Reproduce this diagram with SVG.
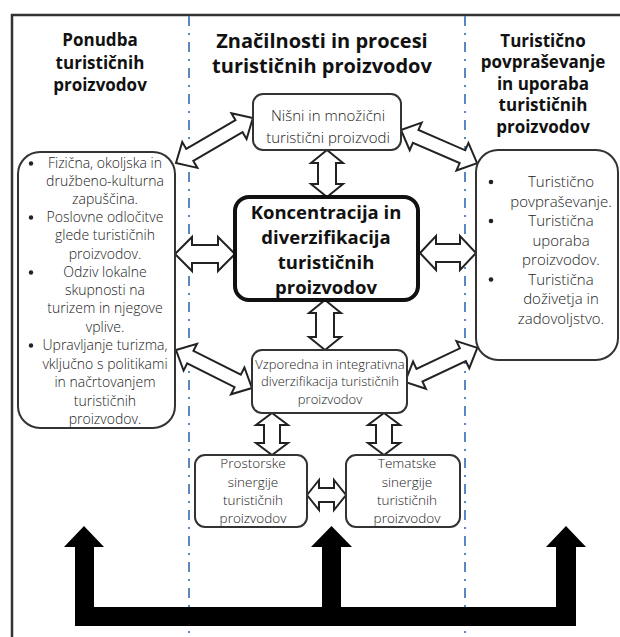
<svg xmlns="http://www.w3.org/2000/svg" width="620" height="637" viewBox="0 0 620 637">
<style>
.frame{fill:none;stroke:#333;stroke-width:2.5}
.sep{fill:none;stroke:#5b87c0;stroke-width:2;stroke-dasharray:10 7 2 7}
.box{fill:#fff;stroke:#333;stroke-width:2}
.main{fill:#fff;stroke:#111;stroke-width:4}
.arr{fill:#fff;stroke:#222;stroke-width:2;stroke-linejoin:miter}
.h{font-family:"Open Sans","Liberation Sans",sans-serif;font-weight:700;fill:#111;text-anchor:middle}
.t{font-family:"Open Sans","Liberation Sans",sans-serif;font-weight:300;fill:#222;text-anchor:middle;font-size:13px}
.dot{fill:#222}
</style>
<rect width="620" height="637" fill="#fff"/>
<path class="frame" d="M12,637 L12,15 L620,15"/>
<line class="sep" x1="189" y1="16" x2="189" y2="637"/>
<line class="sep" x1="465" y1="16" x2="465" y2="637"/>

<g id="headers">
<text class="h" font-size="17"><tspan x="100" y="46">Ponudba</tspan><tspan x="100" y="69">turističnih</tspan><tspan x="100" y="91">proizvodov</tspan></text>
<text class="h" font-size="20" x="322" y="48">Značilnosti in procesi</text>
<text class="h" font-size="20" x="322" y="73">turističnih proizvodov</text>
<text class="h" font-size="17"><tspan x="543" y="47">Turistično</tspan><tspan x="543" y="68">povpraševanje</tspan><tspan x="543" y="90">in uporaba</tspan><tspan x="543" y="111">turističnih</tspan><tspan x="543" y="133">proizvodov</tspan></text>
</g>

<g id="connectors">
<polygon class="arr" transform="translate(176,163) rotate(-30.3)" points="0,0 16,-15 16,-7 73,-7 73,-15 89,0 73,15 73,7 16,7 16,15"/>
<polygon class="arr" transform="translate(401,130) rotate(23.5)" points="0,0 16,-15 16,-7 67,-7 67,-15 83,0 67,15 67,7 16,7 16,15"/>
<polygon class="arr" transform="translate(176,350) rotate(26.6)" points="0,0 16,-15 16,-7 69,-7 69,-15 85,0 69,15 69,7 16,7 16,15"/>
<polygon class="arr" transform="translate(405,382) rotate(-25.3)" points="0,0 16,-15 16,-7 64,-7 64,-15 80,0 64,15 64,7 16,7 16,15"/>
<polygon class="arr" transform="translate(175,254)" points="0,0 17,-17 17,-9 43,-9 43,-17 60,0 43,17 43,9 17,9 17,17"/>
<polygon class="arr" transform="translate(420,253)" points="0,0 16,-17 16,-9 40,-9 40,-17 56,0 40,17 40,9 16,9 16,17"/>
<polygon class="arr" transform="translate(327,150) rotate(90)" points="0,0 13,-16 13,-9 34,-9 34,-16 47,0 34,16 34,9 13,9 13,16"/>
<polygon class="arr" transform="translate(325,300) rotate(90)" points="0,0 13,-16 13,-9 37,-9 37,-16 50,0 37,16 37,9 13,9 13,16"/>
<polygon class="arr" transform="translate(272,413) rotate(90)" points="0,0 12,-16 12,-8 30,-8 30,-16 42,0 30,16 30,8 12,8 12,16"/>
<polygon class="arr" transform="translate(384,413) rotate(90)" points="0,0 12,-16 12,-8 30,-8 30,-16 42,0 30,16 30,8 12,8 12,16"/>
<polygon class="arr" transform="translate(307,495)" points="0,0 12,-15 12,-7 27,-7 27,-15 39,0 27,15 27,7 12,7 12,15"/>
<path fill="#000" d="M75,626 L75,547 L64,547 L84,526 L104,547 L94,547 L94,607 L322,607 L322,547 L311,547 L331.5,526 L352,547 L341,547 L341,607 L556,607 L556,547 L546,547 L566,526 L586,547 L576,547 L576,626 Z"/>
</g>

<g id="node-supply">
<rect class="box" x="18" y="152" width="157" height="276" rx="22"/>
<circle class="dot" cx="31" cy="163.5" r="2.2"/>
<circle class="dot" cx="31" cy="217.5" r="2.2"/>
<circle class="dot" cx="31" cy="272.5" r="2.2"/>
<circle class="dot" cx="31" cy="345.5" r="2.2"/>
<text class="t" style="font-size:14px"><tspan x="105" y="168">Fizična, okoljska in</tspan><tspan x="105" y="186">družbeno-kulturna</tspan><tspan x="105" y="204">zapuščina.</tspan><tspan x="105" y="222">Poslovne odločitve</tspan><tspan x="105" y="240">glede turističnih</tspan><tspan x="105" y="259">proizvodov.</tspan><tspan x="105" y="277">Odziv lokalne</tspan><tspan x="105" y="295">skupnosti na</tspan><tspan x="105" y="313">turizem in njegove</tspan><tspan x="105" y="332">vplive.</tspan><tspan x="105" y="350">Upravljanje turizma,</tspan><tspan x="105" y="369">vključno s politikami</tspan><tspan x="105" y="387">in načrtovanjem</tspan><tspan x="105" y="406">turističnih</tspan><tspan x="105" y="424">proizvodov.</tspan></text>
</g>

<g id="node-demand">
<rect class="box" x="476" y="150" width="142" height="210" rx="22"/>
<circle class="dot" cx="491" cy="182" r="2.3"/>
<circle class="dot" cx="491" cy="221" r="2.3"/>
<circle class="dot" cx="491" cy="279.5" r="2.3"/>
<text class="t" style="font-size:15px"><tspan x="561" y="187">Turistično</tspan><tspan x="561" y="206.5">povpraševanje.</tspan><tspan x="561" y="226">Turistična</tspan><tspan x="561" y="245.5">uporaba</tspan><tspan x="561" y="265">proizvodov.</tspan><tspan x="561" y="284.5">Turistična</tspan><tspan x="561" y="304">doživetja in</tspan><tspan x="561" y="323.5">zadovoljstvo.</tspan></text>
</g>

<g id="node-niche">
<rect class="box" x="253" y="94" width="148" height="56" rx="10"/>
<text class="t" style="font-size:15px"><tspan x="328" y="121">Nišni in množični</tspan><tspan x="328" y="143">turistični proizvodi</tspan></text>
</g>

<g id="node-core">
<rect class="main" x="235" y="197" width="183" height="103" rx="14"/>
<text class="h" font-size="18.5"><tspan x="326" y="219">Koncentracija in</tspan><tspan x="326" y="244">diverzifikacija</tspan><tspan x="326" y="269">turističnih</tspan><tspan x="326" y="294">proizvodov</tspan></text>
</g>

<g id="node-parallel">
<rect class="box" x="252" y="350" width="155" height="63" rx="10"/>
<text class="t"><tspan x="330" y="369">Vzporedna in integrativna</tspan><tspan x="330" y="386">diverzifikacija turističnih</tspan><tspan x="330" y="404">proizvodov</tspan></text>
</g>

<g id="node-spatial">
<rect class="box" x="195" y="455" width="112" height="72" rx="10"/>
<text class="t" style="font-size:13.5px"><tspan x="253" y="468">Prostorske</tspan><tspan x="253" y="487">sinergije</tspan><tspan x="253" y="505">turističnih</tspan><tspan x="253" y="523">proizvodov</tspan></text>
</g>

<g id="node-thematic">
<rect class="box" x="346" y="455" width="114" height="72" rx="10"/>
<text class="t" style="font-size:13.5px"><tspan x="407" y="468">Tematske</tspan><tspan x="407" y="487">sinergije</tspan><tspan x="407" y="505">turističnih</tspan><tspan x="407" y="523">proizvodov</tspan></text>
</g>
</svg>
